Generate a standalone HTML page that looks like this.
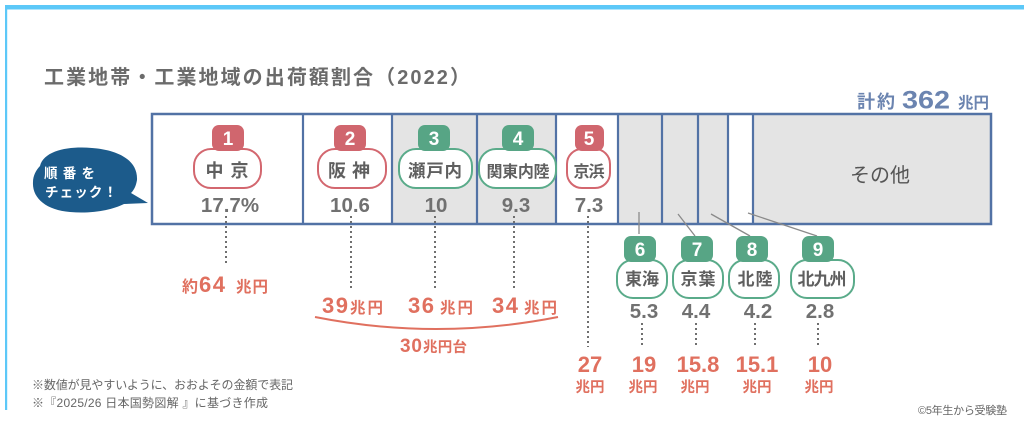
<!DOCTYPE html>
<html lang="ja">
<head>
<meta charset="utf-8">
<style>
  html,body{margin:0;padding:0;background:#fff;}
  body{width:1024px;height:421px;overflow:hidden;}
  svg{display:block;}
  .t{font-family:"Liberation Sans","Noto Sans CJK JP",sans-serif;font-weight:700;}
  .r{font-family:"Liberation Sans","Noto Sans CJK JP",sans-serif;font-weight:400;}
</style>
</head>
<body>
<svg width="1024" height="421" viewBox="0 0 1024 421" xmlns="http://www.w3.org/2000/svg">
  <!-- frame -->
  <rect x="5" y="5" width="1019" height="4.5" fill="#5cc8f8"/>
  <rect x="5" y="5" width="2.2" height="405" fill="#5cc8f8"/>

  <!-- title -->
  <text class="t" x="44" y="84" font-size="20" fill="#6b6b6b" textLength="426" lengthAdjust="spacing">工業地帯・工業地域の出荷額割合（2022）</text>

  <!-- total -->
  <text class="t" x="857" y="108" font-size="18" fill="#6b84b0" textLength="38" lengthAdjust="spacing">計約</text>
  <text class="t" x="902" y="108.5" font-size="25" fill="#6b84b0" textLength="48" lengthAdjust="spacingAndGlyphs">362</text>
  <text class="t" x="958" y="108" font-size="15.5" fill="#6b84b0" textLength="31" lengthAdjust="spacing">兆円</text>

  <!-- bar segments -->
  <rect x="152" y="114" width="839" height="110" fill="#ffffff"/>
  <rect x="392" y="114" width="164" height="110" fill="#e4e4e4"/>
  <rect x="618" y="114" width="110" height="110" fill="#e4e4e4"/>
  <rect x="753" y="114" width="238" height="110" fill="#e4e4e4"/>
  <g stroke="#5272a5" stroke-width="2.2">
    <line x1="303" y1="114" x2="303" y2="224"/>
    <line x1="392" y1="114" x2="392" y2="224"/>
    <line x1="477" y1="114" x2="477" y2="224"/>
    <line x1="556" y1="114" x2="556" y2="224"/>
    <line x1="618" y1="114" x2="618" y2="224"/>
    <line x1="662" y1="114" x2="662" y2="224"/>
    <line x1="698" y1="114" x2="698" y2="224"/>
    <line x1="728" y1="114" x2="728" y2="224"/>
    <line x1="753" y1="114" x2="753" y2="224"/>
  </g>
  <rect x="152" y="114" width="839" height="110" fill="none" stroke="#5272a5" stroke-width="2.5"/>

  <text class="r" x="880" y="182" font-size="20" fill="#555" text-anchor="middle">その他</text>

  <!-- speech bubble -->
  <path d="M40,166 C44,150 70,146 92,148 C118,150 138,160 137,180 C136,186 134,190 131,193 L148,203 L124,204 C112,210 92,214 70,212 C46,210 32,198 33,182 C33,176 36,170 40,166 Z" fill="#1c5b8b"/>
  <text class="t" x="44" y="178" font-size="13.5" fill="#fff" textLength="51" lengthAdjust="spacing">順番を</text>
  <text class="t" x="45" y="197" font-size="13.5" fill="#fff" textLength="72" lengthAdjust="spacing">チェック！</text>

  <!-- top pills -->
  <g stroke-width="2" fill="#fff">
    <rect x="194" y="149" width="67" height="39" rx="17" stroke="#d3676f"/>
    <rect x="318" y="149" width="68" height="39" rx="17" stroke="#d3676f"/>
    <rect x="399" y="149" width="73" height="39" rx="17" stroke="#5aab8a"/>
    <rect x="479" y="149" width="77" height="39" rx="17" stroke="#5aab8a"/>
    <rect x="567" y="149" width="43" height="39" rx="15" stroke="#d3676f"/>
  </g>
  <!-- top badges -->
  <g>
    <rect x="212" y="125" width="32" height="26" rx="7" fill="#d0666e"/>
    <rect x="334" y="125" width="32" height="26" rx="7" fill="#d0666e"/>
    <rect x="418" y="125" width="32" height="26" rx="7" fill="#57a585"/>
    <rect x="502" y="125" width="32" height="26" rx="7" fill="#57a585"/>
    <rect x="575" y="125" width="29" height="26" rx="7" fill="#d0666e"/>
  </g>
  <g class="t" font-size="19" fill="#fff" text-anchor="middle">
    <text x="228" y="145">1</text>
    <text x="350" y="145">2</text>
    <text x="434" y="145">3</text>
    <text x="518" y="145">4</text>
    <text x="589" y="145">5</text>
  </g>
  <g class="t" fill="#5f5f5f" text-anchor="middle">
    <text x="227" y="177" font-size="18" textLength="43" lengthAdjust="spacing">中京</text>
    <text x="349" y="177" font-size="18" textLength="42" lengthAdjust="spacing">阪神</text>
    <text x="435" y="177" font-size="17.5" textLength="54" lengthAdjust="spacing">瀬戸内</text>
    <text x="518" y="177" font-size="16" textLength="63" lengthAdjust="spacing">関東内陸</text>
    <text x="589" y="177" font-size="16" textLength="31" lengthAdjust="spacing">京浜</text>
  </g>
  <!-- top values -->
  <g class="t" font-size="20.5" fill="#717171" text-anchor="middle">
    <text x="230" y="212">17.7%</text>
    <text x="350" y="212">10.6</text>
    <text x="436" y="212">10</text>
    <text x="516" y="212">9.3</text>
    <text x="589" y="212">7.3</text>
  </g>

  <!-- dotted leaders -->
  <g stroke="#6f6f6f" stroke-width="2" stroke-dasharray="2 3">
    <line x1="226" y1="216" x2="226" y2="265"/>
    <line x1="351" y1="216" x2="351" y2="288"/>
    <line x1="435" y1="216" x2="435" y2="288"/>
    <line x1="514" y1="216" x2="514" y2="288"/>
    <line x1="588" y1="216" x2="588" y2="347"/>
    <line x1="642" y1="323" x2="642" y2="348"/>
    <line x1="696" y1="323" x2="696" y2="348"/>
    <line x1="755" y1="323" x2="755" y2="348"/>
    <line x1="818" y1="323" x2="818" y2="348"/>
  </g>

  <!-- connectors for small segments -->
  <g stroke="#8a8a8a" stroke-width="1.3">
    <line x1="639" y1="212" x2="639" y2="234"/>
    <line x1="678" y1="214" x2="695" y2="236"/>
    <line x1="711" y1="214" x2="750" y2="236"/>
    <line x1="748" y1="213" x2="817" y2="236"/>
  </g>

  <!-- bottom pills -->
  <g stroke-width="2" fill="#fff" stroke="#5aab8a">
    <rect x="617" y="260" width="50" height="38" rx="16"/>
    <rect x="673" y="260" width="50" height="38" rx="16"/>
    <rect x="729" y="260" width="50" height="38" rx="16"/>
    <rect x="791" y="260" width="63" height="38" rx="16"/>
  </g>
  <g fill="#57a585">
    <rect x="624" y="236" width="32" height="26" rx="7"/>
    <rect x="681" y="236" width="32" height="26" rx="7"/>
    <rect x="736" y="236" width="32" height="26" rx="7"/>
    <rect x="802" y="236" width="32" height="26" rx="7"/>
  </g>
  <g class="t" font-size="19" fill="#fff" text-anchor="middle">
    <text x="640" y="256">6</text>
    <text x="697" y="256">7</text>
    <text x="752" y="256">8</text>
    <text x="818" y="256">9</text>
  </g>
  <g class="t" fill="#5f5f5f" text-anchor="middle" font-size="17">
    <text x="642" y="285" textLength="34" lengthAdjust="spacing">東海</text>
    <text x="698" y="285" textLength="35" lengthAdjust="spacing">京葉</text>
    <text x="755" y="285" textLength="35" lengthAdjust="spacing">北陸</text>
    <text x="822" y="285" textLength="49" lengthAdjust="spacing">北九州</text>
  </g>
  <g class="t" font-size="20.5" fill="#717171" text-anchor="middle">
    <text x="644" y="318">5.3</text>
    <text x="696" y="318">4.4</text>
    <text x="758" y="318">4.2</text>
    <text x="820" y="318">2.8</text>
  </g>

  <!-- amounts (salmon) -->
  <g class="t" fill="#e0705f">
    <text x="182" y="292" font-size="16">約</text>
    <text x="199" y="292" font-size="22" textLength="26" lengthAdjust="spacing">64</text>
    <text x="236" y="292" font-size="15.5" textLength="32" lengthAdjust="spacing">兆円</text>

    <text x="322" y="313" font-size="22" textLength="26" lengthAdjust="spacing">39</text>
    <text x="350" y="313" font-size="15.5" textLength="33" lengthAdjust="spacing">兆円</text>

    <text x="408" y="313" font-size="22" textLength="26" lengthAdjust="spacing">36</text>
    <text x="440" y="313" font-size="15.5" textLength="33" lengthAdjust="spacing">兆円</text>

    <text x="492" y="313" font-size="22" textLength="26" lengthAdjust="spacing">34</text>
    <text x="524" y="313" font-size="15.5" textLength="33" lengthAdjust="spacing">兆円</text>

    <text x="400" y="352" font-size="19" textLength="22" lengthAdjust="spacing">30</text>
    <text x="423" y="352" font-size="14.5" textLength="44" lengthAdjust="spacing">兆円台</text>
  </g>
  <path d="M315,317 Q436,341 558,317" fill="none" stroke="#e0705f" stroke-width="2"/>

  <g class="t" fill="#e0705f" text-anchor="middle">
    <text x="590" y="372" font-size="22">27</text>
    <text x="644" y="372" font-size="22">19</text>
    <text x="698" y="372" font-size="22">15.8</text>
    <text x="757" y="372" font-size="22">15.1</text>
    <text x="820" y="372" font-size="22">10</text>
  </g>
  <g class="t" fill="#e0705f" text-anchor="middle" font-size="14.5">
    <text x="590" y="392">兆円</text>
    <text x="643" y="392">兆円</text>
    <text x="695" y="392">兆円</text>
    <text x="757" y="392">兆円</text>
    <text x="819" y="392">兆円</text>
  </g>

  <!-- footnotes -->
  <text class="r" x="32" y="389" font-size="12" fill="#666" textLength="261" lengthAdjust="spacing">※数値が見やすいように、おおよその金額で表記</text>
  <text class="r" x="32" y="407" font-size="12" fill="#666" textLength="236" lengthAdjust="spacing">※『2025/26 日本国勢図解 』に基づき作成</text>
  <text class="r" x="918" y="414" font-size="11" fill="#666" textLength="89" lengthAdjust="spacing">©5年生から受験塾</text>
</svg>
</body>
</html>
